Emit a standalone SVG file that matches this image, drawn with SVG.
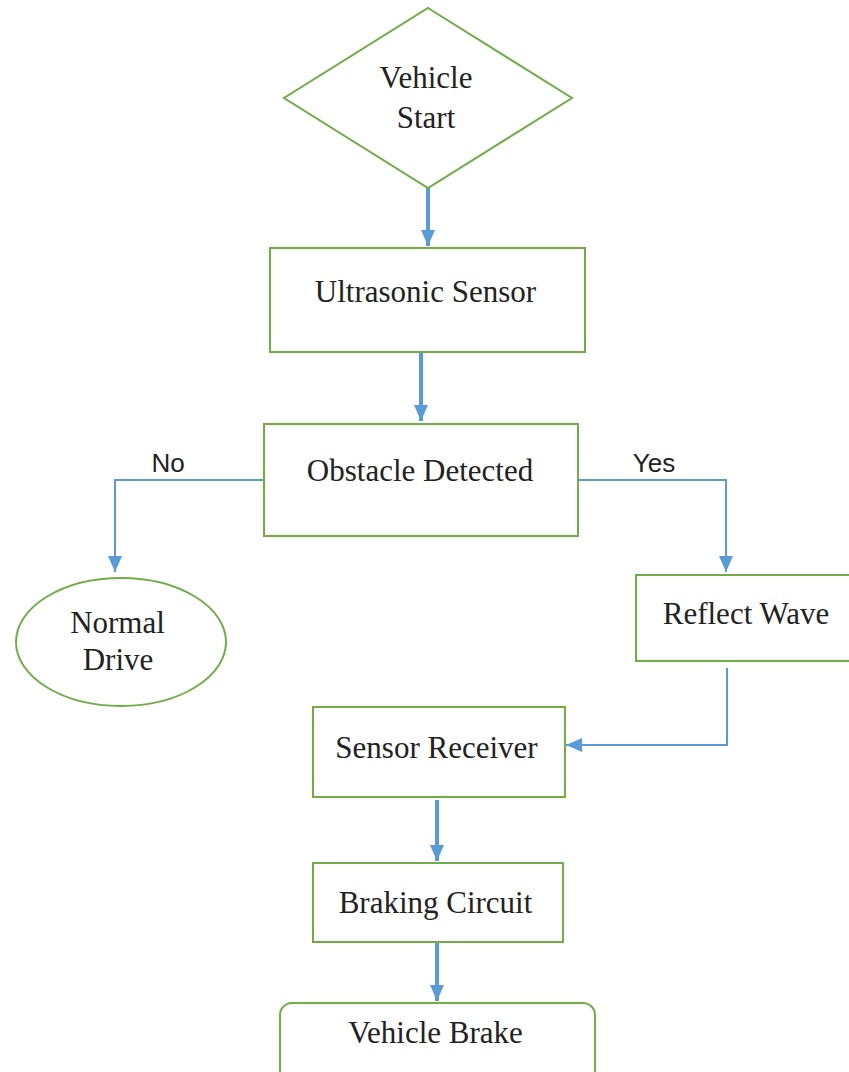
<svg xmlns="http://www.w3.org/2000/svg" width="849" height="1072" viewBox="0 0 849 1072">
<style>
.n{fill:#fff;stroke:#70AD47;stroke-width:2}
.t{font-family:"Liberation Serif","Times New Roman",serif;font-size:31px;fill:#222;text-anchor:middle}
.l{font-family:"Liberation Sans",Arial,sans-serif;font-size:26px;fill:#222;text-anchor:middle}
.c{fill:none;stroke:#5B9BD5}
.thick{stroke-width:4}
.thin{stroke-width:2}
</style>
<defs>
<marker id="ah" markerUnits="userSpaceOnUse" markerWidth="16" markerHeight="14" viewBox="0 0 16 14" refX="16" refY="7" orient="auto">
<path d="M0,0 L16,7 L0,14 z" fill="#5B9BD5"/>
</marker>
</defs>
<g id="connectors">
<line class="c thick" x1="428" y1="188" x2="428" y2="246" marker-end="url(#ah)"/>
<line class="c thick" x1="421" y1="353" x2="421" y2="421" marker-end="url(#ah)"/>
<polyline class="c thin" points="264,480 115,480 115,572" marker-end="url(#ah)"/>
<polyline class="c thin" points="578,480 726,480 726,572" marker-end="url(#ah)"/>
<polyline class="c thin" points="727,668 727,745 566,745" marker-end="url(#ah)"/>
<line class="c thick" x1="437" y1="800" x2="437" y2="861" marker-end="url(#ah)"/>
<line class="c thick" x1="437" y1="943" x2="437" y2="1001" marker-end="url(#ah)"/>
<text class="l" x="168" y="472">No</text>
<text class="l" x="654" y="472">Yes</text>
</g>
<g id="start">
<polygon class="n" points="428,8 572,98 428,188 284,98"/>
<text class="t" x="426" y="88">Vehicle</text>
<text class="t" x="426" y="128">Start</text>
</g>
<g id="ultrasonic">
<rect class="n" x="270" y="248" width="315" height="104"/>
<text class="t" x="425.5" y="302">Ultrasonic Sensor</text>
</g>
<g id="obstacle">
<rect class="n" x="264" y="424" width="314" height="112"/>
<text class="t" x="420" y="481">Obstacle Detected</text>
</g>
<g id="normal">
<ellipse class="n" cx="121" cy="642" rx="105" ry="64"/>
<text class="t" x="117.5" y="633">Normal</text>
<text class="t" x="118" y="670">Drive</text>
</g>
<g id="reflect">
<rect class="n" x="636" y="575" width="220" height="86"/>
<text class="t" x="746" y="624">Reflect Wave</text>
</g>
<g id="receiver">
<rect class="n" x="313" y="707" width="252" height="90"/>
<text class="t" x="436.5" y="758">Sensor Receiver</text>
</g>
<g id="braking">
<rect class="n" x="313" y="863" width="250" height="79"/>
<text class="t" x="435.5" y="913">Braking Circuit</text>
</g>
<g id="brake">
<rect class="n" x="280" y="1003" width="315" height="90" rx="12"/>
<text class="t" x="435.5" y="1043">Vehicle Brake</text>
</g>
</svg>
